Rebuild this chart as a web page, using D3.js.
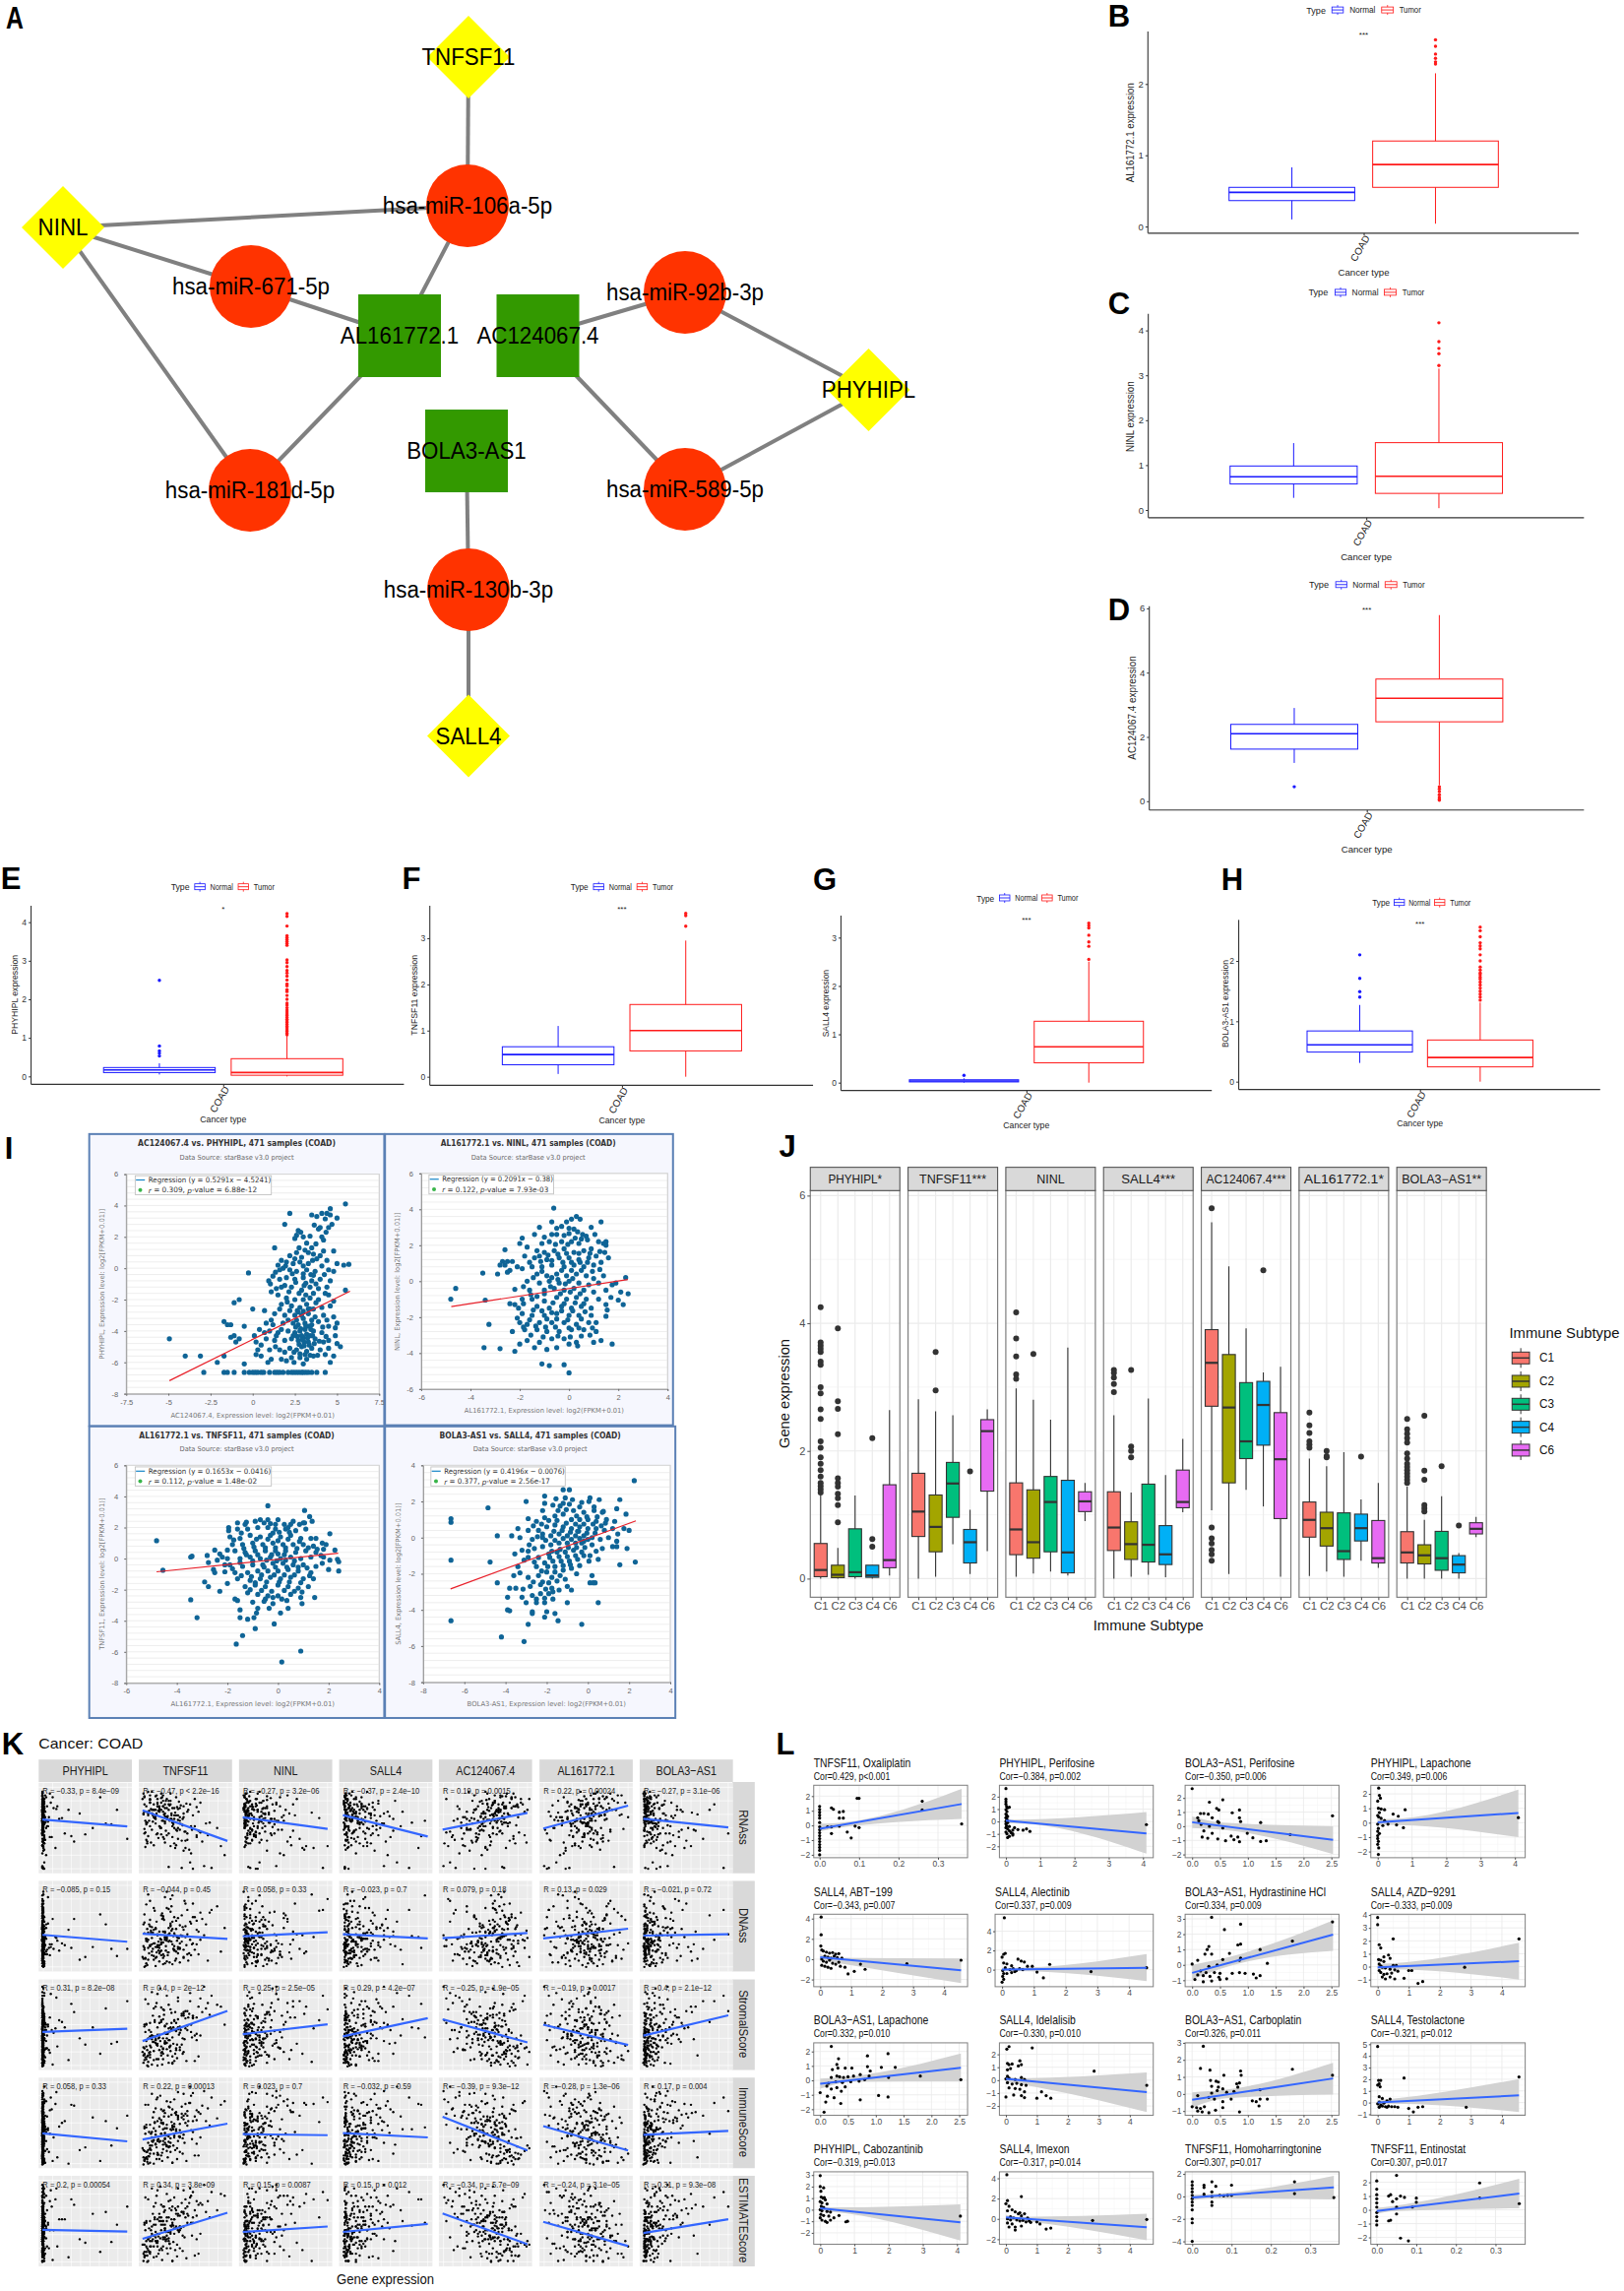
<!DOCTYPE html>
<html><head><meta charset="utf-8">
<script src="https://cdnjs.cloudflare.com/ajax/libs/d3/7.8.5/d3.min.js"></script>
<style>html,body{margin:0;padding:0;background:#fff}svg{display:block;font-family:"Liberation Sans",Arial,sans-serif}</style>
</head><body><script>
/* ---------- panel A ---------- */
const netNodes=[["TNFSF11","d"],["hsa-miR-106a-5p","c"],["NINL","d"],["hsa-miR-671-5p","c"],["hsa-miR-92b-3p","c"],["AL161772.1","s"],["AC124067.4","s"],["PHYHIPL","d"],["BOLA3-AS1","s"],["hsa-miR-181d-5p","c"],["hsa-miR-589-5p","c"],["hsa-miR-130b-3p","c"],["SALL4","d"]];
const netEdges=[[0,1],[1,2],[1,5],[2,3],[3,5],[2,9],[9,5],[6,4],[6,10],[4,7],[10,7],[8,11],[11,12]];
/* ---------- panels B-H ---------- */
const boxGenes=["AL161772.1","NINL","AC124067.4","PHYHIPL","TNFSF11","SALL4","BOLA3-AS1"];
const boxStars=["***","","***","*","***","***","***"];
const boxTicks=[[0,1,2],[0,1,2,3,4],[0,2,4,6],[0,1,2,3,4],[0,1,2,3],[0,1,2,3],[0,1,2]];
const boxNormal=[[.1,.364,.48,.55,.83],[.27,.58,.74,.98,1.49],[1.19,1.62,2.1,2.39,2.9],[.05,.1,.17,.23,.34],[.06,.26,.48,.65,1.1],[0,.015,.035,.06,.09],[.31,.49,.61,.84,1.27]];
const boxTumor=[[.04,.55,.87,1.2,2.15],[.04,.37,.75,1.5,3.15],[.5,2.47,3.2,3.8,5.79],[0,.03,.1,.46,1.06],[0,.56,1,1.565,2.95],[0,.41,.74,1.27,2.5],[0,.245,.4,.69,1.31]];
const outNormal=[[],[],[.45],[.53,.6,.66,.79,2.49],[],[.15],[1.4,1.49,1.71,2.1]];
const outTumor=[[2.62,2.53,2.42,2.36,2.31,2.28],[4.17,3.75,3.6,3.48,3.22],[.45,.38,.3,.2,.12,.06,.03],
[1.08,1.12,1.17,1.21,1.26,1.3,1.35,1.4,1.44,1.48,1.53,1.58,1.62,1.67,1.72,1.78,1.85,1.9,2,2.1,2.2,2.25,2.35,2.4,2.5,2.6,2.68,2.75,2.85,2.95,3.02,3.4,3.45,3.5,3.55,3.6,3.65,3.9,4.15,4.22],
[3.26,3.49,3.54],[2.55,2.82,2.91,3.05,3.2,3.25,3.3],
[1.35,1.4,1.45,1.5,1.55,1.6,1.65,1.7,1.73,1.77,1.8,1.85,1.9,2,2.1,2.2,2.25,2.3,2.4,2.5,2.56]];
/* ---------- panel I ---------- */
const iTitles=["AC124067.4 vs. PHYHIPL, 471 samples (COAD)","AL161772.1 vs. NINL, 471 samples (COAD)","AL161772.1 vs. TNFSF11, 471 samples (COAD)","BOLA3-AS1 vs. SALL4, 471 samples (COAD)"];
const iXLabels=["AC124067.4, Expression level: log2(FPKM+0.01)","AL161772.1, Expression level: log2(FPKM+0.01)","AL161772.1, Expression level: log2(FPKM+0.01)","BOLA3-AS1, Expression level: log2(FPKM+0.01)"];
const iYLabels=["PHYHIPL, Expression level: log2[FPKM+0.01)]","NINL, Expression level: log2[FPKM+0.01)]","TNFSF11, Expression level: log2[FPKM+0.01)]","SALL4, Expression level: log2[FPKM+0.01)]"];
const iEq=["Regression (y = 0.5291x − 4.5241)","Regression (y = 0.2091x − 0.38)","Regression (y = 0.1653x − 0.0416)","Regression (y = 0.4196x − 0.0076)"];
const iR=["0.309","0.122","0.112","0.377"];
const iP=["6.88e-12","7.93e-03","1.48e-02","2.56e-17"];
const iXTicks=[[-7.5,-5,-2.5,0,2.5,5,7.5],[-6,-4,-2,0,2,4],[-6,-4,-2,0,2,4],[-8,-6,-4,-2,0,2,4]];
const iYTicks=[[-8,-6,-4,-2,0,2,4,6],[-6,-4,-2,0,2,4,6],[-8,-6,-4,-2,0,2,4,6],[-8,-6,-4,-2,0,2,4]];
const iRegLines=[[-4.94,-7.17,5.77,-1.46],[-4.78,-1.41,2.39,.09],[-4.8,-.85,2.38,.35],[-6.67,-2.84,2.33,.93]];
const i1Floor=[-2.9,-1.7,-1.5,-1.1,-.5,-.2,0,.15,.3,.5,.65,1,1.3,1.45,1.6,1.8,2.1,2.3,2.45,2.6,2.75,2.9,3,3.15,3.3,3.5,3.8,4.3];
const i1Pts=[-4.94,-4.5,-4,-5.6,-3.1,-5.6,-2.1,-6,-1.7,-5.6,-1.7,-3.4,-1.5,-3.6,-1.3,-3.6,-1.3,-4.4,-1.1,-4.3,-1,-4.7,-1.1,-2.2,-.8,-2,-.5,-3.7,-.8,-4.5,-.25,-.3,0,-2.6,.7,-2.7,.1,-4.3,.2,-4.7,.2,-5.5,.5,-5.6,-.5,-6.1,
5.5,4.1,4.6,3.8,4.6,3.4,5,3.2,4.1,3.5,3.5,3.4,2.2,3.5,1.9,2.8,3.8,3.3,4.4,3.5,4.7,2.8,4.5,2.6,2.7,2.4,2.6,2.1,3.9,2.5,4,2.6,2.5,1.9,3,2,4.2,1.8,4.1,2,3.2,1.6,3.5,1.3,1.3,1.3,4.8,1.1,3.3,1,2.6,1,2.2,.8,2.9,.7,3.6,.9,4,.8,3.8,.6,2,.4,1.7,.5,1.5,.2,2.4,.3,2.8,.4,3.3,.3,4.4,.5,5,.3,5.4,.2,5.7,.25,1.8,0,2.2,-.1,2.6,-.2,3.2,-.1,3.7,-.2,4.5,-.1,4.8,-.2,1.2,-.5,1.6,-.7,2,-.6,2.5,-.7,3,-.6,3.5,-.8,4,-.7,4.6,-.8,1.1,-1.5,1.7,-1.2,2.3,-1.2,2.9,-1.4,3.4,-1.2,3.9,-1.3,4.4,-1.2,5.5,-1.4,1.5,-1.7,2,-1.9,2.5,-2,3,-2,3.4,-1.9,3.9,-2,4.5,-1.7,1.7,-2.3,2.3,-2.4,2.8,-2.5,3.2,-2.3,3.6,-2.6,4.1,-2.5,4.6,-2.4,1.3,-2.9,1.9,-3,2.5,-3,2.9,-3,3.3,-2.9,3.7,-3.1,4.2,-3,4.8,-3.1,.8,-3.5,1.2,-3.6,1.8,-3.5,2.4,-3.5,2.7,-3.6,3.1,-3.5,3.5,-3.6,3.9,-3.4,4.5,-3.7,4.9,-3.8,1,-4,1.5,-4.1,2.1,-4,2.5,-4.1,2.8,-4,3.2,-4.2,3.6,-4,4.1,-4.1,4.9,-4.3,.8,-4.5,1.3,-4.6,1.9,-4.6,2.3,-4.5,2.7,-4.6,3,-4.4,3.3,-4.7,3.7,-4.5,4.5,-4.6,5.2,-5,1,-5.2,1.6,-5.2,2.2,-5.1,2.6,-5.2,2.9,-5,3.2,-5.3,3.5,-5.1,4,-5.2,4.8,-5.6,1.1,-5.8,1.7,-5.8,2.3,-5.7,2.8,-5.7,3.2,-5.8,3.6,-5.6,4.6,-6,.9,-6,2.6,-3.3,2.9,-4.3,3.1,-3.9,3.4,-4.3,2.4,-4.3,3,-3.2,3.3,-3.7,3.05,-4.7,3.4,-2.6,2.7,-2.8,3.5,-3.3,
2.55,-3.75,2.85,-3.85,3.15,-3.7,3.45,-3.9,2.65,-4.35,2.95,-4.55,3.25,-4.45,3.55,-4.3,2.75,-4.85,3.05,-4.95,3.35,-4.9,3.65,-4.8,2.45,-5.35,2.8,-5.45,3.1,-5.5,3.4,-5.55,2.65,-2.7,3,-2.75,3.3,-2.6,3.75,-2.2,3.15,-1.7,2.75,-1.6,3.6,-1.6,2.15,-1.5,1.9,-1.1,2.55,-.9,3.15,-.95,3.75,-1,4.25,-.4,2.35,-.35,3,-.35,3.45,-.4,1.95,.15,2.5,.6,3,.15,3.55,.5,4.1,.15,2.75,1.3,3.1,1.15,3.75,1.55,4.2,1.1,3.4,2.05,2.85,2.3,4.35,2.3,3.65,2.75,4.3,3.15,3.05,-1.1,3.6,-.45,4.3,-1.6,4.8,-2.1,5,-3.5,5,-4.8,4.4,-3.3,4.15,-3.75,4.35,-4.35,4.2,-4.7,3.95,-4.65,4.3,-5.5,4.5,-5.1,3.85,-5.55,1.4,-4.3,1.7,-3.9,1.1,-3.3,2.1,-3.3,2.2,-2.7,1.6,-2.6,2.05,-2.15,1.35,-5,1.9,-5.35,2,-5.9,2.45,-6,3,-6.1,.5,-4.9,.7,-4.1,.4,-3.9,.3,-5.2,1.4,-1.3,1.05,-1,.95,-.8,1.6,-.1,1.35,-.25];
const i2Pts=[-4.8,-1,-4.6,-.4,-3.5,.45,-3.4,-1.05,-3.25,-2.4,-3.45,-3.7,-2.8,-3.75,-2.9,.4,-2.7,1.1,-2.6,1.75,-2.6,.9,-2.5,1.1,-2.4,.6,-2.5,.5,-2.8,.9,-2.2,-3.9,-2,-3.5,-1.9,2.4,-2,2.1,-1.4,2.6,-1.2,3,-1.1,-4.6,-.8,-4.7,-.2,-4.65,0,-5.1,
-.62,4.07,-.1,3.3,.3,3.6,.1,3.45,.45,3.45,1.3,3.3,-.7,3.3,-.3,3.05,0,2.95,.2,2.9,.9,3,-.7,2.6,-.5,2.6,0,2.65,.55,2.6,.7,2.5,.75,2.3,-1.1,2.1,-.8,2.2,-.3,2.2,.1,2.2,.4,2.1,1.2,2.2,1.4,2.1,1.5,2,1.5,2.2,-1.7,1.9,-1.3,1.7,-1,1.6,-.6,1.7,-.2,1.8,.2,1.6,.6,1.7,.9,1.8,-1.8,1.4,-1.4,1.3,-.9,1.2,-.4,1.3,0,1.3,.4,1.2,.8,1.3,1.1,1.4,1.6,1.3,-1.5,.8,-1.1,.8,-.7,.9,-.2,.8,.2,.9,.6,.8,1,.9,-1.9,.7,-1.3,.4,-.9,.3,-.5,.4,-.1,.3,.3,.4,.7,.3,-1.7,0,-1.2,-.1,-.8,0,-.4,-.1,0,0,.4,-.1,.8,-.2,1.2,-.1,1.9,-.1,-2.2,-.45,-1.6,-.5,-1,-.5,-.6,-.4,-.2,-.5,.2,-.4,.6,-.5,1,-.6,1.5,-.5,2.3,.2,2.1,-.6,-2.4,-1.25,-1.9,-1,-1.5,-1,-1,-1.1,-.5,-.9,-.1,-1,.3,-.9,.7,-1,1.2,-1,1.7,-.9,2,-1.05,2.4,-.7,-2.2,-1.3,-1.3,-1.4,-.8,-1.5,-.3,-1.4,.1,-1.5,.5,-1.4,.9,-1.5,1.5,-1.3,2.2,-1.3,-1.9,-1.8,-1.5,-1.9,-1,-1.9,-.5,-1.8,0,-1.9,.4,-1.9,.9,-1.9,1.5,-1.95,-2,-2.3,-1.7,-2.4,-1.2,-2.3,-.7,-2.3,-.2,-2.3,.3,-2.4,.8,-2.3,1.1,-2.3,-2.3,-2.8,-1.8,-2.7,-1.3,-2.7,-.9,-2.8,-.4,-2.8,.1,-2.7,.6,-2.7,1.1,-2.8,-1.7,-3.3,-1.2,-3.4,-.7,-3.2,-.2,-3.2,.3,-3.4,1,-3.4,1.3,-3.3,1.75,-3.5,-1.4,-3.7,-.9,-3.8,-.5,-3.7,0,-3.5,.35,-3.6,
-.45,.1,-.15,-.15,.15,.15,-.75,-.3,-.35,-.7,.05,-.6,.45,-.7,-.65,-1.2,-.2,-1.25,.25,-1.2,.6,-1.25,-1,-.7,-1.3,-.85,-1.1,-1.65,-.7,-1.75,-.3,-1.65,.15,-1.65,.65,-1.7,-1.45,-1.6,-.9,-2.1,-.5,-2.1,-.05,-2.15,.5,-2.1,-1.6,-2.15,-1.35,-2.5,-.95,-2.55,-.55,-2.55,0,-2.6,.4,-2.6,.95,-2.6,-1.85,-2.55,-2.1,-2.05,-1.55,-3,-1.05,-3.1,-.45,-3.05,.05,-3.1,.5,-3.05,.85,-3,-2.05,-1.5,-1.85,-1.25,-1.55,-.75,-1.85,-.3,-1.45,.2,-1.1,.55,-.7,.2,-.3,.6,.1,.6,.5,.6,.95,.55,1.25,.65,1.4,.3,1,.15,.45,1.05,.1,1.05,-.25,1.05,-.7,1.15,-1.15,1.1,-1.6,1.05,-2.1,.8,-2.3,1.1,.75,1.05,1.3,1.05,1.45,1.6,.85,1.55,.4,1.55,-.1,1.55,-.45,1.5,-.85,1.45,-1.2,1.4,-.05,2.05,.25,2.4,-.55,2.05,-.2,2.55,-.5,2.95,.5,2.35,.35,2.75,-1,2.45,1.05,2.6,1.25,1.65,1.55,-1.6,1.75,-.2];
const i3Pts=[-4.8,1.15,-4.55,-.75,-3.45,.1,-3.4,.15,-3.45,-2.65,-3.2,-3.8,-2.9,-1.5,-2.75,-1.8,-2.8,.2,-2.75,-.25,-2.5,.55,-2.55,-.7,-2.5,-.9,-2.3,.3,-2.3,-2.1,-2.1,-.4,-2,-1.6,-1.95,2,-1.95,1.8,-1.7,-2.6,-1.6,-2.7,-1.5,-3.3,-1.5,-3.8,-1.65,-5.5,-1.4,-4.95,-1.2,-3.9,-.95,-3.8,-.9,-4.5,-.85,-3.5,-.15,-4.2,.15,-6.65,.9,-5.95,.9,-2.5,.95,-2.9,1.45,-2.5,.4,-3.2,-.4,3.4,1.05,3.1,1.25,2.7,2.05,1.6,2.25,.55,2.4,-.8,2.35,-.05,1.75,1,1.8,.6,
-1.6,2.3,-1.3,2.2,-.9,2.4,-.7,2.5,-.4,2.5,0,2.5,.6,2.4,1,2.3,-1.6,1.9,-1.2,1.9,-.8,2,-.4,2,-.1,1.9,.3,1.9,.7,1.8,1.1,1.9,-1.9,1.4,-1.5,1.3,-1.1,1.5,-.7,1.4,-.3,1.5,.1,1.4,.5,1.5,.9,1.3,1.3,1.3,-1.8,.9,-1.4,.9,-1,1,-.6,.9,-.2,1,.2,.9,.6,.9,1,.9,1.4,.8,-1.7,.5,-1.3,.4,-.9,.5,-.5,.5,-.1,.5,.3,.5,.7,.4,1.1,.5,1.5,.4,-2,0,-1.5,0,-1.1,.1,-.7,0,-.3,.1,.1,0,.5,.1,.9,0,1.3,.1,1.8,.1,-1.9,-.4,-1.4,-.5,-1,-.4,-.6,-.4,-.2,-.3,.2,-.3,.6,-.4,1,-.4,1.5,-.5,2,-.7,2.4,-.2,-1.7,-.9,-1.2,-.9,-.8,-.8,-.4,-.8,0,-.8,.4,-.7,.8,-.8,1.3,-.9,-1.6,-1.3,-1.1,-1.4,-.7,-1.3,-.3,-1.2,.1,-1.3,.5,-1.2,1,-1.3,1.4,-1.3,-1.3,-1.8,-.9,-1.7,-.5,-1.8,0,-1.7,.4,-1.8,.8,-1.9,1.2,-1.8,-1.2,-2.2,-.8,-2.3,-.4,-2.4,0,-2.4,.5,-2.3,-1,-2.8,-.5,-2.6,-.2,-2.9,.15,-2.6,-.8,-3.2,.1,-3.5,
0,.3,-.25,.25,.25,.25,-.45,-.1,-.05,-.15,.3,-.1,.65,-.15,-.5,.7,-.1,.7,.3,.7,.75,.65,-.55,-.55,-.1,-.55,.35,-.55,.8,-.55,1.15,-.6,-.8,.25,-1,-.15,-1.25,.25,-1.5,-.25,-.85,1.25,-.4,1.25,0,1.15,.4,1.25,.85,1.1,-.95,.75,-1.35,.65,1.2,.7,1.55,.6,1.7,.2,1.75,-.3,2.05,-.1,-.65,-1.05,-.15,-1.05,.25,-1.05,.65,-1.05,-1.05,-1.15,-.9,-1.55,-.45,-1.5,.05,-1.5,.45,-1.5,.9,-1.55,1.25,-1.1,-1.45,-1.1,-1.8,-.65,-2.1,-.85,-2.2,.1,-2.4,-.1,-1.1,-2,-.65,-2.05,-.25,-2.1,.25,-2.05,.65,-2.1,.95,-2.15,-.55,-2.75,-.2,-2.5,.35,-2.7,-.35,-3.2,1.05,2.3,1.35,2.4,1.5,1.3,1.9,.9,-.3,2.25,.25,2.2,.5,2.2,.85,2.2,-1.25,2.35,-1.45,1.65,-1.75,1.2,-2,.55,-.55,2.3,-.1,2.2,.4,2,-.2,1.65,.05,1.7,.45,1.7];
const i4Pts=[-6.65,1.05,-6.65,.85,-6.65,-1.25,-6.65,-4.6,-4.85,1.65,-4.4,.1,-4.75,-1.35,-4.4,-2.5,-4.2,-5.5,-3.9,-4,-3.8,-4.05,-3.1,-5.75,-3,2,-2.9,1.05,-2.9,-4.8,-3.9,-3.3,-3.8,-2.8,-3.4,.5,-3.7,.1,-.3,-4.8,.5,-3.6,-1.45,-4.6,-1.6,-4.2,-2.1,-4.4,-2.7,-4.2,-1,-3.6,-.8,-2.9,-1,-2.7,.1,-2.5,.35,-2.5,2.25,3.15,2.3,-1.35,1.55,-1.5,1.9,-.6,2,.4,1.85,1.3,1.55,2.1,1.4,1.6,.55,2.1,.1,2.2,-.4,1.7,-.9,2.65,-1.2,2.65,-1.9,3,-1.5,3.2,-2.1,2.3,
-2.2,1.5,-1.7,1.8,-1.2,1.9,-.7,1.5,-.2,1.4,.3,1.5,.7,1.4,-2.5,.9,-2.1,1.1,-1.6,1.2,-1.2,1.3,-.8,1,-.4,1,0,1,.4,.9,.9,1,1.3,.9,-2.9,.4,-2.4,.4,-2,.6,-1.6,.7,-1.2,.6,-.8,.5,-.4,.6,0,.5,.4,.5,.8,.4,1.2,.5,-3.3,0,-2.7,-.1,-2.2,0,-1.8,.1,-1.4,.2,-1,.1,-.6,.1,-.2,.1,.2,0,.6,-.1,1,0,1.4,-.2,-3.2,-.7,-2.6,-.6,-2.2,-.5,-1.8,-.4,-1.4,-.3,-1,-.3,-.6,-.3,-.2,-.2,.2,-.4,.7,-.6,1.2,-.5,-2.9,-1.1,-2.4,-1.1,-1.9,-.9,-1.5,-.8,-1.1,-.8,-.7,-.7,-.3,-.8,.1,-1,.5,-1.2,-3.4,-1.6,-2.5,-1.6,-2.1,-1.4,-1.7,-1.3,-1.3,-1.3,-.9,-1.3,-.5,-1.2,-3.6,-2.1,-2.9,-2.2,-2.4,-2.1,-2,-1.9,-1.6,-1.9,-1.2,-1.8,-.8,-1.7,.2,-2.1,.25,-2.5,-3.5,-2.8,-2.8,-2.7,-2.3,-2.6,-1.9,-2.5,-1.5,-2.4,-1.1,-2.3,-3.2,-3.3,-2.7,-3.2,-2.3,-3.1,-1.9,-3.1,-1.4,-2.9,-3,-3.6,-2.5,-3.6,-2.1,-3.6,-1.7,-3.4,-2.7,-4.1,-2,-4.1,
-1.6,-.15,-1.2,-.05,-.8,-.1,-.4,-.05,0,-.1,-1.75,-.75,-1.35,-.65,-.95,-.55,-.55,-.55,-.15,-.55,-1.65,.35,-1.25,.4,-.85,.3,-.45,.35,-.05,.25,.35,.25,-1.5,.95,-1.05,.8,-.6,.75,-.2,.75,.25,.75,.65,.65,-1.85,-1.1,-1.4,-1.05,-1,-1.05,-.6,-1,-.2,-1,-2.05,-.15,-2.45,.05,-2.85,-.4,-2.65,.65,-2.25,.75,-1.9,.95,-1.45,1.5,-1.05,1.55,-.55,1.2,-.05,1.15,.45,1.15,.85,.8,1.45,.2,1.4,-.5,1.75,.5,-1.6,-1.6,-1.2,-1.55,-.85,-1.5,-.4,-1.55,-1.95,-1.6,-2.25,-1.85,-1.75,-2.2,-1.35,-2.1,-2.2,-2.45,-1.75,-2.8,-2.65,-2.45,-3.15,-2.85,-2.05,-2.85,-2.5,-3.4,-2.1,-3.35,-1.7,-3,-3.3,-1.95,-3.1,-1.25,-3.55,-.9,-2.9,-.75,-2.6,-1.35,-.3,-.3,.4,-.75,.05,-1.3,-.55,-2,.05,2,-.3,1.95,-.75,2.1,-1.1,2.2,-1.55,2.15,-2.1,1.9,-.9,1.85,.3,1.7,.75,1.45,-1.35,1.75,-.5,.35,-2.2,.2];
/* ---------- panel J ---------- */
const jGenes=["PHYHIPL*","TNFSF11***","NINL","SALL4***","AC124067.4***","AL161772.1*","BOLA3−AS1**"];
const jCats=["C1","C2","C3","C4","C6"];
const jColors=["#F8766D","#A3A500","#00BF7D","#00B0F6","#E76BF3"];
const jTicks=[0,2,4,6];
const jStats=[
[[0,.03,.135,.55,1.31],[0,.015,.06,.21,.48],[0,.03,.1,.78,1.3],[0,.02,.05,.21,.21],[.05,.17,.29,1.47,2.64]],
[[0,.66,1.05,1.65,2.81],[.03,.42,.81,1.31,2.62],[.54,.96,1.49,1.82,2.56],[.07,.245,.57,.77,1.08],[.43,1.37,2.31,2.49,2.65]],
[[.03,.375,.77,1.5,2.98],[.08,.32,.57,1.39,2.8],[.11,.42,1.2,1.6,2.49],[.05,.09,.41,1.54,3.62],[.9,1.05,1.21,1.36,1.5]],
[[0,.44,.8,1.36,2.56],[.03,.3,.54,.89,1.35],[.06,.26,.53,1.48,2.82],[.02,.22,.38,.83,1.62],[1.04,1.11,1.2,1.7,2.19]],
[[1.07,2.7,3.38,3.9,5.58],[.07,1.5,2.68,3.51,4.89],[1.39,1.88,2.15,3.07,3.92],[1.13,2.09,2.72,3.09,3.23],[.03,.94,1.87,2.6,3.32]],
[[.04,.65,.92,1.2,1.88],[.11,.51,.79,1.04,1.76],[.03,.3,.43,1.03,1.98],[.28,.59,.79,1.01,1.24],[.17,.245,.32,.91,1.5]],
[[0,.245,.41,.735,1.44],[0,.23,.365,.53,.92],[0,.13,.32,.74,1.29],[0,.09,.22,.36,.4],[.65,.7,.78,.875,.965]]];
const jOut=[
[[4.25,3.7,3.65,3.6,3.55,3.4,3.35,3,2.9,2.65,2.5,2.15,2.05,1.9,1.8,1.7,1.6,1.5,1.45,1.4,1.35],[3.92,2.78,2.66,2.26,1.57,1.5,1.44,1.33,1.26,1.15,.88],[],[2.2,.62,.5],[]],
[[],[3.55,2.95],[],[1.68],[]],
[[4.17,3.76,3.48,3.2,3.13],[3.52],[],[],[]],
[[3.27,3.22,3.15,3.05,2.92],[3.27,2.07,2,1.9],[],[],[]],
[[5.8,.8,.63,.55,.45,.38,.28],[],[],[4.83],[]],
[[2.6,2.4,2.28,2.15,2.1,2.05],[2,1.92,1.9],[],[1.91],[]],
[[2.5,2.34,2.27,2.2,2.13,1.96,1.88,1.8,1.75,1.7,1.65,1.6,1.55,1.5],[2.55,1.69,1.55,1.15,1.1,1.05],[1.76],[.83],[]]];
/* ---------- panel K ---------- */
const kGenes=["PHYHIPL","TNFSF11","NINL","SALL4","AC124067.4","AL161772.1","BOLA3−AS1"];
const kScores=["RNAss","DNAss","StromalScore","ImmuneScore","ESTIMATEScore"];
const kLabels=[
["R = −0.33, p = 8.4e−09","R = −0.47, p < 2.2e−16","R = −0.27, p = 3.2e−06","R = −0.37, p = 2.4e−10","R = 0.19, p = 0.0015","R = 0.22, p = 0.00024","R = −0.27, p = 3.1e−06"],
["R = −0.085, p = 0.15","R = −0.044, p = 0.45","R = 0.058, p = 0.33","R = −0.023, p = 0.7","R = 0.079, p = 0.18","R = 0.13, p = 0.029","R = −0.021, p = 0.72"],
["R = 0.31, p = 8.2e−08","R = 0.4, p = 2e−12","R = 0.25, p = 2.5e−05","R = 0.29, p = 4.2e−07","R = −0.25, p = 1.9e−05","R = −0.19, p = 0.0017","R = 0.4, p = 2.1e−12"],
["R = 0.058, p = 0.33","R = 0.22, p = 0.00013","R = 0.023, p = 0.7","R = −0.032, p = 0.59","R = −0.39, p = 9.3e−12","R = −0.28, p = 1.3e−06","R = 0.17, p = 0.004"],
["R = 0.2, p = 0.00054","R = 0.34, p = 3.8e−09","R = 0.15, p = 0.0087","R = 0.15, p = 0.012","R = −0.34, p = 5.7e−09","R = −0.24, p = 3.1e−05","R = 0.31, p = 9.3e−08"]];
const kFits=[
[[59.4,51.8],[69.5,35.7],[61.8,49],[64.3,40.6],[48.2,66.7],[49.4,74.7],[60.2,50.6]],
[[40.4,32.8],[41.6,36],[38.8,43.2],[41.2,36.4],[36.8,42.4],[36.4,47.2],[39.6,41.2]],
[[42,45.6],[32,65.2],[39.6,50.4],[37.2,57.2],[56,30.4],[50,27.6],[38,60.4]],
[[38.4,29.6],[31.6,49.2],[37.6,36.4],[38.8,34],[56.8,19.6],[46.4,19.6],[36.8,41.2]],
[[40.4,38.4],[30.4,59.2],[38,44],[38,46.8],[58.4,24.4],[49.2,22.4],[36.8,52]]];
const kX1=[
[4,5,6,12,4,5,4,8,95,5,4,18,4,6,5,4,72,5,4,9,4,5,38,4,6,4,5,14,4,5,4,58,6,4,5,4,22,5,4,7,4,5,4,6,10,4,5,4,28,5,4,6,4,5,4,84,5,4,16,4,5,6,4,5,4,8,5,4,44,4,6,5,4,12,5,4,4,6,5,4,20,4,5,4,6,4,5,4,66,5,4,4,7,5,4,5,32,4,5,4],
[70,88,55,62,78,48,66,92,42,58,74,50,84,38,64,56,72,46,34,60,52,44,68,30,54,40,76,36,48,28,58,42,50,33,26,62,38,46,24,52,35,44,30,22,56,40,28,36,20,48,32,18,42,26,38,16,34,24,44,14,30,36,20,28,12,40,22,32,10,26,18,34,8,24,30,14,20,38,12,26,8,18,6,32,22,10,16,28,6,14,24,5,12,20,8,4,16,10,6,5],
[40,72,22,55,90,30,12,48,65,18,35,80,25,10,58,44,15,30,95,20,38,8,52,26,70,14,33,7,46,22,60,12,28,40,9,18,35,6,50,24,13,42,8,30,16,56,10,22,34,7,14,26,48,9,20,6,38,12,28,8,18,32,6,24,10,44,7,16,28,6,12,36,8,20,5,14,62,9,24,6,18,30,7,12,5,22,10,40,6,16,8,26,5,14,7,19,5,11,6,8],
[48,30,62,20,75,38,15,52,28,10,42,85,22,34,58,18,46,8,26,66,36,12,50,24,7,40,20,55,16,30,9,44,26,14,68,34,11,22,38,7,48,18,28,6,36,13,24,92,8,32,16,20,6,42,10,26,14,7,30,18,9,22,6,54,12,24,8,16,34,6,20,10,28,7,14,5,18,38,8,12,24,6,15,5,10,30,7,19,6,13,5,22,8,11,5,16,6,9,5,7],
[5,28,12,40,18,33,8,46,25,38,15,50,30,6,44,22,55,35,10,48,27,60,40,20,52,32,62,14,45,36,58,24,65,42,30,54,48,68,38,17,60,34,50,72,44,26,64,56,40,70,52,36,75,46,58,66,30,62,78,48,54,72,42,68,60,82,50,64,74,38,58,84,66,52,70,46,88,62,76,56,80,68,92,60,72,50,85,64,78,95,58,74,66,82,70,97,62,76,68,80],
[5,35,18,48,10,28,40,22,55,8,32,44,15,38,60,26,50,12,42,34,58,20,46,30,65,6,52,36,24,62,44,16,54,40,28,68,48,34,72,11,56,42,30,60,50,38,75,25,52,64,44,33,70,46,56,82,40,62,54,35,78,48,66,58,30,72,52,42,64,88,56,46,70,60,38,76,50,66,92,54,44,68,58,80,48,62,95,52,72,42,64,56,84,60,46,70,54,66,50,58],
[30,55,14,42,90,22,10,35,68,18,8,48,25,12,60,28,16,7,38,20,95,13,33,9,24,45,11,19,6,30,15,52,8,22,12,36,6,18,75,10,26,14,7,40,16,5,21,9,32,12,6,17,28,8,14,44,6,20,10,25,5,13,7,34,11,18,6,9,15,5,22,8,12,6,16,58,5,10,19,7,13,5,9,27,6,11,5,15,8,5,10,6,20,7,5,12,6,8,5,4]];
const kX2=[
[4,5,4,6,4,5,7,4,5,4,6,4,5,4,11,4,6,5,4,4,5,8,4,5,4,6,5,4,4,15,5,4,6,4,5,4,7,5,4,4,25,4,5,6,4,5,4,4,9,5,4,6,4,5,4,50,4,5,4,6,4,7,5,4,4,5,13,4,6,4,5,4,4,6,5,4,35,4,5,4,8,4,5,6,4,4,19,5,4,6,4,5,78,4,5,4,6,4,5,10],
[35,12,48,26,7,60,22,41,16,31,9,53,28,19,44,6,36,24,66,14,39,11,29,50,21,8,33,18,57,25,42,13,30,5,46,20,37,10,27,62,17,34,23,43,7,52,15,32,26,40,9,22,47,12,35,19,55,28,6,38,16,30,24,44,11,49,20,33,8,41,27,14,36,58,18,25,10,45,31,6,23,39,13,51,17,29,42,9,34,21,64,15,37,26,7,47,12,32,19,28],
[10,28,6,18,42,8,24,14,6,34,12,20,7,52,16,9,30,6,22,11,68,8,26,14,38,7,19,10,46,6,16,25,9,32,12,6,21,78,8,15,28,7,36,11,18,6,24,10,44,14,7,20,9,30,6,16,58,8,12,26,7,22,34,6,10,18,40,8,14,7,28,12,6,20,9,48,16,7,24,11,6,32,8,18,86,10,14,6,26,9,20,7,38,12,6,16,8,22,54,10],
[14,6,26,9,40,7,18,11,32,6,22,8,48,13,7,28,10,6,36,16,9,20,60,7,12,26,6,44,10,18,7,30,8,14,6,24,78,9,16,6,34,11,7,22,8,52,13,6,28,10,18,7,40,9,14,6,24,8,32,11,6,20,7,46,12,16,6,26,9,36,7,14,10,6,22,8,88,12,18,6,30,7,10,42,8,16,6,24,9,13,7,34,6,20,10,58,7,14,8,28],
[62,44,70,55,33,78,48,66,58,38,82,52,74,60,28,68,56,42,88,50,72,63,36,76,54,46,84,59,30,66,52,40,92,57,70,47,24,64,80,53,35,73,58,44,86,61,49,68,20,75,56,39,83,51,65,43,90,60,34,71,55,26,78,47,62,12,69,54,41,85,58,32,74,50,66,16,80,57,45,72,63,37,94,52,68,48,22,76,60,42,64,55,30,82,50,70,8,58,46,67],
[52,38,66,46,24,58,72,42,50,30,62,78,36,55,18,48,68,40,84,53,28,60,44,74,34,50,14,64,56,26,70,42,48,88,32,58,52,20,66,38,46,76,54,30,62,10,44,80,50,36,68,56,24,42,72,48,34,60,90,40,54,22,64,46,30,76,52,16,58,38,70,44,50,28,82,56,36,62,12,48,66,42,26,74,54,34,60,46,20,68,40,86,52,32,56,44,64,8,50,38],
[8,20,6,14,30,7,12,5,26,10,6,40,9,16,5,22,7,12,34,6,18,5,9,50,14,6,24,8,5,12,28,7,16,62,6,10,20,5,13,8,36,6,17,5,11,46,7,22,5,9,15,6,30,8,5,12,80,6,19,7,25,5,10,14,6,42,8,5,18,7,12,5,33,9,6,15,5,24,7,11,5,56,8,16,6,5,21,10,5,13,7,38,6,9,5,17,5,28,6,12]];
const kY1=[
[8,30,12,40,6,25,45,20,38,5,42,28,50,33,47,22,55,36,30,52,44,58,35,60,26,48,56,40,62,34,64,50,46,58,68,42,60,54,70,37,66,48,62,74,52,31,72,58,44,66,76,55,64,80,50,70,60,43,72,66,82,56,74,63,78,84,52,70,66,86,60,76,68,88,72,48,82,64,78,58,74,85,68,80,72,90,62,76,84,70,78,66,86,74,56,82,70,64,76,88],
[40,22,55,30,68,15,35,48,25,60,12,38,72,28,44,18,52,33,80,24,41,10,58,36,20,47,65,30,16,43,75,27,50,34,8,56,23,39,62,19,45,31,70,26,53,14,37,84,29,46,21,6,59,32,42,17,66,35,25,49,11,55,28,38,78,22,44,33,13,61,27,51,36,18,88,30,41,24,57,15,34,47,26,69,20,43,31,9,63,37,23,52,29,40,74,16,46,35,5,28],
[92,70,85,58,82,64,79,50,76,60,74,46,72,55,70,42,68,62,67,38,65,48,64,35,62,52,61,44,60,30,58,47,57,33,56,40,55,28,53,44,52,25,51,39,50,22,49,36,47,20,46,34,45,18,44,31,43,26,41,38,40,15,39,29,37,24,36,42,35,12,33,27,32,19,30,34,29,10,27,23,26,37,24,8,22,16,21,30,18,6,16,25,14,5,12,20,11,4,17,8],
[85,70,90,64,78,82,60,74,58,83,66,71,55,76,62,80,52,68,73,57,63,49,69,44,72,59,47,65,54,61,40,56,50,67,43,53,46,60,38,58,51,35,48,55,42,62,33,45,52,37,57,41,30,49,36,44,28,53,34,40,25,47,31,39,22,43,29,35,20,50,27,33,18,38,24,30,15,34,21,26,12,37,19,23,10,28,16,32,8,25,14,20,6,17,11,22,5,13,9,4],
[90,80,86,72,82,84,70,78,66,82,72,74,62,76,68,78,60,70,73,62,66,56,68,54,70,62,54,66,58,62,48,58,54,64,50,56,52,60,46,58,52,44,50,54,48,58,42,48,52,44,54,46,40,50,42,46,38,50,40,44,34,46,36,42,32,44,36,38,30,46,32,36,28,40,30,34,26,36,28,30,22,38,24,28,18,30,22,32,16,28,20,24,14,22,16,24,10,18,12,6]];
const kY2=[
[64,52,74,40,58,82,68,47,76,60,33,70,55,86,62,44,72,50,78,66,28,58,80,36,69,54,75,63,48,84,59,71,42,65,6,77,56,67,38,73,61,88,51,79,45,68,57,7,74,64,35,70,53,81,60,43,76,66,49,72,31,62,83,55,69,46,78,59,37,73,65,90,52,5,70,58,41,75,63,85,50,67,34,77,61,47,71,56,80,39,68,64,54,74,29,60,82,44,66,57],
[33,50,24,44,15,60,29,38,70,21,47,12,35,55,26,42,8,32,65,18,40,52,28,75,23,36,10,48,30,58,20,43,34,14,62,27,39,85,17,46,31,53,22,37,6,68,25,41,19,56,33,11,49,28,72,16,35,44,24,60,13,38,30,51,20,78,27,42,9,34,57,22,47,31,15,64,26,40,18,54,36,12,45,29,67,23,37,7,50,33,19,43,25,59,14,39,28,48,21,82],
[45,20,62,35,78,10,52,28,68,40,15,58,32,74,22,48,8,55,38,86,18,44,30,65,12,50,25,70,36,6,56,42,82,16,60,27,47,9,66,33,53,21,90,39,14,49,31,72,24,43,5,59,35,17,63,28,76,41,11,54,37,23,69,46,19,34,84,26,51,13,61,38,7,57,30,20,73,44,16,50,32,64,25,10,55,40,80,22,47,35,15,60,29,67,42,18,52,33,12,48],
[42,25,58,30,70,14,46,22,62,36,10,52,28,76,18,44,6,50,34,82,20,40,26,60,15,48,24,66,32,8,54,38,74,12,56,30,43,5,64,27,50,18,80,35,11,47,29,68,21,41,7,55,33,16,59,23,72,37,9,49,31,19,65,42,13,28,78,24,45,10,57,34,6,52,26,17,70,39,12,46,30,61,20,8,51,36,84,18,43,32,14,56,25,63,38,16,48,29,10,44],
[44,22,60,32,76,12,50,24,66,38,12,56,30,78,20,46,6,54,36,86,18,42,28,64,14,50,25,70,34,7,56,40,80,14,60,28,45,6,66,30,52,20,88,38,12,48,30,72,22,42,5,58,34,16,62,26,76,40,10,52,34,20,68,44,16,32,84,25,48,11,60,36,6,54,28,18,74,42,14,48,31,64,22,9,54,38,86,20,45,33,14,58,27,66,40,17,50,31,11,46]];
/* ---------- panel L ---------- */
const lTitles=["TNFSF11, Oxaliplatin","PHYHIPL, Perifosine","BOLA3−AS1, Perifosine","PHYHIPL, Lapachone","SALL4, ABT−199","SALL4, Alectinib","BOLA3−AS1, Hydrastinine HCl","SALL4, AZD−9291","BOLA3−AS1, Lapachone","SALL4, Idelalisib","BOLA3−AS1, Carboplatin","SALL4, Testolactone","PHYHIPL, Cabozantinib","SALL4, Imexon","TNFSF11, Homoharringtonine","TNFSF11, Entinostat"];
const lSubs=["Cor=0.429, p<0.001","Cor=−0.384, p=0.002","Cor=−0.350, p=0.006","Cor=0.349, p=0.006","Cor=−0.343, p=0.007","Cor=0.337, p=0.009","Cor=0.334, p=0.009","Cor=−0.333, p=0.009","Cor=0.332, p=0.010","Cor=−0.330, p=0.010","Cor=0.326, p=0.011","Cor=−0.321, p=0.012","Cor=−0.319, p=0.013","Cor=−0.317, p=0.014","Cor=0.307, p=0.017","Cor=0.307, p=0.017"];
const xT1=[0,.1,.2,.3],xT4=[0,1,2,3,4],xT25=[0,.5,1,1.5,2,2.5];
const lXTicks=[xT1,xT4,xT25,xT4,xT4,xT4,xT25,xT4,xT25,xT4,xT25,xT4,xT4,xT4,xT1,xT1];
const lYTicks=[[-2,-1,0,1,2],[-2,-1,0,1,2],[-2,-1,0,1,2],[-2,-1,0,1,2],[-2,0,2,4],[0,2,4],[-1,0,1,2,3],[-1,0,1,2,3,4],[-2,-1,0,1,2],[-2,-1,0,1,2],[-1,0,1,2,3],[-1,0,1,2,3,4,5],[-2,-1,0,1,2,3],[-2,0,2,4],[-4,-2,0,2],[-2,-1,0,1,2]];
const lXDom=[[-.015,.375],[-.19,4.3],[-.126,2.636],[-.2,4.3],[-.21,4.76],[-.22,4.76],[-.126,2.636],[-.22,4.75],[-.116,2.65],[-.21,4.76],[-.126,2.636],[-.22,4.75],[-.19,4.31],[-.21,4.76],[-.018,.373],[-.015,.375]];
const lYDom=[[-2.2,2.74],[-2.92,2.92],[-2.23,2.9],[-2.43,2.6],[-2.71,4.43],[-1.77,5.77],[-1.42,3.3],[-1.55,4.06],[-2.42,2.6],[-2.72,2.89],[-1.25,3],[-1.09,5.12],[-2.99,3.28],[-2.5,4.64],[-4.26,2.19],[-2.5,2.76]];
const lFit=[[0,-.22,.36,1.46],[0,.06,4.1,-.96],[0,.28,2.53,-.97],[0,.03,4.1,.68],[0,.2,4.55,-1.1],[0,0,4.55,.19],[0,-.52,2.53,1.97],[0,-.06,4.55,.42],[0,-.23,2.53,.88],[0,.1,4.55,-.93],[0,-.34,2.53,.91],[0,0,4.55,.62],[0,.13,4.1,-1.1],[0,.14,4.55,-.82],[0,-.1,.36,.81],[0,-.08,.36,1.18]];
/* confidence band: x, low, high at left edge, near the data centre, and at the right edge */
const lBand=[
[[0,-.42,.12],[.03,-.24,.14],[.36,.44,2.49]],[[0,-.15,.27],[.2,-.15,.15],[4.1,-2.6,.76]],[[0,-.13,.69],[.55,-.25,.25],[2.53,-1.97,0]],[[0,-.2,.26],[.2,-.15,.25],[4.1,-1,2.3]],
[[0,-.1,.5],[.4,-.3,.15],[4.55,-2.36,.07]],[[0,-.2,.2],[.4,-.15,.2],[4.55,-1.2,1.62]],[[0,-.95,0],[.7,-.05,.55],[2.53,.92,2.9]],[[0,-.3,.2],[.4,-.2,.25],[4.55,-1,1.85]],
[[0,-.58,.13],[.6,-.1,.3],[2.53,-.08,1.86]],[[0,-.15,.35],[.4,-.3,.15],[4.55,-2.47,.59]],[[0,-.8,.1],[.6,-.25,.25],[2.53,-.04,1.83]],[[0,-.2,.2],[.4,-.1,.3],[4.55,-.81,2.02]],
[[0,-.1,.35],[.25,-.15,.2],[4.1,-2.67,.47]],[[0,-.1,.38],[.4,-.2,.2],[4.55,-2.1,.5]],[[0,-.35,.15],[.04,-.2,.2],[.36,-.26,1.84]],[[0,-.3,.14],[.04,-.1,.28],[.36,.11,2.26]]];
const lPts=[
[0,1.3,0,1.1,0,.9,0,.7,0,.5,0,.2,0,-.1,0,-.3,0,-.5,0,-.7,0,-.9,0,-1.1,0,-1.3,0,-1.5,0,-1.7,0,-2,.03,1.2,.035,1.1,.05,.9,.06,.95,.05,.5,.06,.5,.02,-.1,.03,-.1,.05,-.05,.03,-.55,.07,-.45,.08,-.85,.09,-.05,.1,-.15,.095,1.85,.1,1.85,.26,1.65,.26,1.05,.36,.1],
[0,2.65,0,1.8,0,1.6,0,1.4,.02,1.2,.05,1.1,0,.95,.03,.8,.1,1.15,0,.6,.02,.5,.05,.4,0,.3,.03,.15,0,0,.05,-.1,0,-.2,.02,-.35,.1,-.4,0,-.5,.05,-.6,.1,-.75,0,-.85,.03,-1,.1,-1.2,.2,-1,.15,-.9,.2,-1.1,.05,-1.3,.2,-.7,.35,-.65,.5,-.7,.6,-.6,.7,-.8,.25,-.5,4.1,-.25],
[0,2.66,.31,1.7,.55,1.87,.44,1.26,.48,1.15,.85,1.15,.72,.95,.85,.6,.87,.33,1.23,.26,2.52,.74,.15,.9,.21,.9,.29,.85,.1,.6,.12,.38,.36,.6,.46,.33,.48,.26,.16,.13,.31,0,.55,-.13,.21,-.33,.36,-.5,.18,-.77,.28,-.85,.46,-.9,.6,-1.03,.75,-.95,.85,-1.1,1.09,-.82,1.23,-1.08,1.33,-1.03,1.76,-.59,.99,-.5,.7,-.7,.82,-.77],
[.03,2.4,.05,1.9,.08,1.7,0,1.5,.02,1,.1,.95,.2,.9,.8,.9,.45,.6,.6,.45,.05,.7,0,.5,.03,.4,.1,.3,.2,.15,.3,-.1,.55,-.15,.75,-.35,0,-.1,.02,-.4,0,-.6,.05,-.75,0,-.9,0,-1.1,.02,-1.3,0,-1.5,.03,-1.75,.02,-2.2,4.1,.35,.15,-.2],
[.03,4.15,.03,2.4,.02,1.3,.05,.9,.1,.8,.2,.7,.3,.6,.4,.65,.5,.5,.6,.55,.15,.3,.25,.2,.35,.1,.45,.3,.55,.15,.7,.1,.05,0,.1,-.2,.2,-.3,.3,-.1,.4,-.4,.5,-.5,.6,-.3,.05,-.6,.15,-.7,.25,-.8,.35,-.9,.65,-.7,.8,-.8,.9,-1.45,1.1,-1.2,1.3,-.5,1.45,-1,2.8,-.45,4.55,-.1],
[.07,5.4,.05,1.6,.1,1.7,0,1.3,.05,.7,.15,.6,.5,1.1,.6,.9,.7,.8,.3,.4,.8,.35,.95,.35,1.5,.55,.1,.2,.25,0,.35,.1,.45,-.1,.55,.1,.65,0,.02,-.1,.05,-.4,.02,-.7,.05,-1,0,-1.3,.15,-.4,.3,-.3,.4,-.2,1.1,-.25,1.3,-.85,2.8,-.2,4.55,.2],
[.35,3.1,.87,2.65,.58,2.3,2.52,2.8,1.8,1.55,.3,1.2,.27,1,.23,.7,.35,.7,.67,.75,.82,1.3,.87,1.35,1.22,1,.87,.45,.85,.3,.1,.3,0,.05,.55,.35,.45,0,1.35,.1,.3,-.1,.15,-.4,.25,-.5,.4,-.5,.5,-.55,.1,-.65,.2,-.7,.32,-.75,.48,-.8,.72,-.55,.85,-.5,.95,-.55,1.1,-.6,1.22,-.7,1.15,-.85,.05,-.95,.2,-1.1,.35,-1.05,.5,-.95,.62,-.9],
[0,3.8,0,3.25,.5,2.15,.05,1.7,.1,1.45,.35,.9,.2,.75,.4,.65,.03,.55,.1,.5,.2,.4,.05,.2,.5,.1,.6,.1,.1,.05,.15,-.05,.25,-.1,.4,-.2,.55,-.25,.65,-.35,.05,-.3,.1,-.45,.2,-.6,.3,-.55,.45,-.5,.15,-.8,.25,-.95,.4,-.8,.55,-.95,.85,-.9,1,-.3,1.1,-.3,1.3,-1.3,1.45,-1.15,2.8,-.05,4.55,2.15],
[.2,2.35,.33,1.5,.85,1.7,1.22,1.85,1.35,.9,1.1,.9,.3,1.1,.32,.85,.22,.75,.45,.85,.57,.85,.85,.95,.9,.65,.2,.2,.3,.3,.35,.25,.42,.2,.5,.25,.6,.3,.72,.4,.88,.3,1.23,.2,1.8,.3,2.53,.05,.15,-.2,.28,-.1,.4,-.15,.55,-.1,.7,-.05,.8,.05,0,-.85,.12,-.4,.2,-.6,.3,-.5,.38,-.75,.45,-.45,.13,-1.1,.25,-1.2,.37,-1.6,.1,-1.5,.07,-2.2,.72,-1.35,1.05,-1.05,1.22,-1.15],
[.03,2.4,.1,2.6,.85,2.5,2.85,.7,.05,1.3,.1,1.2,.2,1.25,.4,1.1,.5,1.2,.45,1.5,.05,.8,.15,.9,.05,.3,0,.1,.1,.15,.3,.05,.5,.2,.6,.05,.05,-.2,.2,-.3,.35,-.25,.5,-.35,.65,-.4,.1,-.6,.3,-.65,.45,-.7,.6,-.9,0,-1.3,.25,-1.15,.5,-1.2,.6,-1.35,1,-1.4,1.15,-.9,1.3,-1.2,1.45,-1.4,4.55,-.4],
[.2,2.8,.15,1.5,.32,1.4,.57,1.1,.87,1.35,.88,1.1,.85,.65,.8,.6,1.8,1.45,2.52,1.1,.33,.8,.43,.75,.47,.7,.35,.45,.47,.4,.55,.3,.82,.4,.35,.05,.45,.2,.62,.1,.75,.15,1.22,.25,.1,-.1,.3,-.2,.4,-.3,.55,-.45,.7,-.3,1.08,-.4,1.15,-.45,1.22,-.3,1.35,-.3,1.2,-.7,0,-.75,.08,-.8,.15,-.85,.22,-.75,.1,-1,.18,-1.05,.3,-1.1,.42,-.95,.55,-.8,.85,-1.05],
[0,4.8,.85,2.1,4.55,2.2,.03,1.9,.1,1.9,.05,1.6,0,1.5,.08,1.35,.05,.5,.15,.35,.3,.15,.4,.3,.05,.05,.2,-.05,.1,-.2,.15,-.3,.25,-.35,.35,-.3,.45,-.35,.55,-.35,.65,-.4,.05,-.4,.3,-.4,1,-.5,1.15,-.8,1.3,-.4,1.45,-.35,2.85,-.4,0,-.1,.05,-.35],
[0,2.95,0,2,.1,1.9,.02,1.6,.03,1.1,.08,1,.12,1.05,0,.7,.05,.6,.15,.85,.2,.5,.03,.3,.1,.2,0,0,.05,-.1,.2,-.15,.3,-.2,.02,-.4,.1,-.5,.25,-.55,.4,-.7,.55,-.5,0,-.7,.05,-.9,.15,-1,.2,-1.1,.3,-.9,.75,-1.05,.8,-1,4.1,-.55],
[.03,4.35,.5,2.2,.05,1.8,0,1.5,.1,1.25,.2,.9,.05,.8,.3,.7,.4,.5,.45,.6,.6,.5,.15,.2,.25,.1,.5,.3,.7,.1,.05,0,.15,-.1,.35,-.1,.45,-.2,.55,-.15,.65,-.3,.75,-.2,.05,-.4,.2,-.5,.3,-.8,.5,-.7,.1,-.8,.3,-1.1,.8,-.35,1,-.3,1.1,-.5,1.3,-1,1.45,-.9,2.8,-.15,4.55,-.05],
[0,1.3,0,1,0,.7,0,.4,0,.1,0,-.2,0,-.5,0,-.8,0,-1.2,0,-2,0,-2.35,0,-4,.03,.8,.03,1,.05,1.3,.06,.9,.05,.4,.03,.2,.05,0,.05,-.5,.05,-.8,.07,.1,.08,.05,.09,.1,.1,1,.26,1.3,.26,.25,.36,-.1,.1,.1],
[.05,2.5,0,2.1,0,1.5,0,1.1,0,.8,0,.5,0,.2,0,-.2,0,-.5,0,-.8,0,-1.1,.03,1,.035,1.1,.05,.8,.06,1,.04,.6,.07,.9,.05,.2,.1,.85,.1,.55,.09,.2,.05,-.3,.03,-.8,.035,-.75,.06,-2.05,.08,-2.25,.26,1.95,.26,.85,.36,.45]];

/* ---------- helpers ---------- */
const svg=d3.select("body").append("svg").attr("width",1650).attr("height",2327);
function T(g,x,y,s,o={}){
  const t=g.append("text").attr("x",x).attr("y",y).attr("font-size",o.size||10).attr("fill",o.color||"#000")
    .attr("text-anchor",o.anchor||"middle").attr("dominant-baseline","central");
  if(o.weight)t.attr("font-weight",o.weight);
  if(o.family)t.attr("font-family",o.family);
  if(o.html)t.html(s);else t.text(s);
  if(o.rot!==undefined)t.attr("transform",`rotate(${o.rot} ${x} ${y})`);
  if(o.w)t.attr("textLength",o.w).attr("lengthAdjust","spacingAndGlyphs");
  else if(o.sx){const n=t.node().getComputedTextLength();t.attr("textLength",n*o.sx).attr("lengthAdjust","spacingAndGlyphs");}
  return t;
}
function pairs(a){const r=[];for(let i=0;i+1<a.length;i+=2)r.push([a[i],a[i+1]]);return r;}
function cleanAxis(g,size,color){g.attr("font-family",null);g.selectAll("text").attr("font-size",size).attr("fill",color);g.selectAll("line").attr("stroke",color);return g;}

/* ---------- panel letters ---------- */
[["A",15,18],["B",1137,16],["C",1137,308],["D",1137,619],["E",11,892],["F",418,892],["G",838,893],["H",1252,893],["I",9,1166],["J",800,1164],["K",13,1771],["L",798,1771]]
 .forEach(d=>T(svg,d[1],d[2],d[0],{size:31,weight:"bold",sx:d[0]=="A"?.8:1}));

/* ---------- panel A ---------- */
(function(){
  const g=svg.append("g");
  const pos=[[476,58],[475,209],[64,231],[255,291],[696,297],[406,341],[546.5,341],[882.5,396],[474,458],[254,498],[696,497],[476,599],[476,747.5]];
  g.selectAll("line").data(netEdges).join("line")
   .attr("x1",d=>pos[d[0]][0]).attr("y1",d=>pos[d[0]][1]).attr("x2",d=>pos[d[1]][0]).attr("y2",d=>pos[d[1]][1])
   .attr("stroke","#808080").attr("stroke-width",4);
  netNodes.forEach((n,i)=>{
    const [x,y]=pos[i],r=42;
    if(n[1]=="c")g.append("circle").attr("cx",x).attr("cy",y).attr("r",r).attr("fill","#ff3300");
    if(n[1]=="s")g.append("rect").attr("x",x-r).attr("y",y-r).attr("width",2*r).attr("height",2*r).attr("fill","#339900");
    if(n[1]=="d")g.append("path").attr("d",`M${x},${y-r}L${x+r},${y}L${x},${y+r}L${x-r},${y}Z`).attr("fill","#ffff00");
  });
  netNodes.forEach((n,i)=>T(g,pos[i][0],pos[i][1],n[0],{size:23,sx:.97}));
})();

/* ---------- panels B-H ---------- */
function boxPanel(i,c){
  const g=svg.append("g"),fx=c.fx,fy=c.fy,L=fx(c.ax),R=fx(c.right),Y=fy(c.base),Top=fy(c.top);
  const ticks=boxTicks[i],mx=d3.max(ticks);
  const y=d3.scaleLinear().domain([0,mx]).range([fy(c.y0),fy(c.yM)]);
  const x=d3.scaleBand().domain(["Normal","Tumor"]).range([fx(c.bl),fx(c.br)]).paddingInner(.125);
  const cx=(fx(c.bl)+fx(c.br))/2;
  const ya=g.append("g").attr("transform",`translate(${L},0)`).call(d3.axisLeft(y).tickValues(ticks).tickSize(2.5).tickPadding(2).tickFormat(d3.format("d")));
  ya.select(".domain").remove();cleanAxis(ya,c.tick,"#333");
  g.append("line").attr("x1",L).attr("x2",L).attr("y1",Top).attr("y2",Y).attr("stroke","#333").attr("stroke-width",1.1);
  const xs=d3.scalePoint().domain(["COAD"]).range([cx,cx]);
  const xa=g.append("g").attr("transform",`translate(0,${Y})`).call(d3.axisBottom(xs).tickSize(2.5));
  xa.select(".domain").remove();cleanAxis(xa,10,"#222");
  xa.selectAll("text").attr("text-anchor","end").attr("dy",0).attr("y",4).attr("x",-1).attr("transform","rotate(-60)").attr("dominant-baseline","central");
  g.append("line").attr("x1",L).attr("x2",R).attr("y1",Y).attr("y2",Y).attr("stroke","#333").attr("stroke-width",1.1);
  [["Normal",boxNormal[i],outNormal[i],"#1a1aff"],["Tumor",boxTumor[i],outTumor[i],"#ff1a1a"]].forEach(([nm,s,o,col])=>{
    const bx=x(nm),bw=x.bandwidth(),mid=bx+bw/2;
    g.append("line").attr("x1",mid).attr("x2",mid).attr("y1",y(s[0])).attr("y2",y(s[4])).attr("stroke",col).attr("stroke-width",1);
    g.append("rect").attr("x",bx).attr("y",y(s[3])).attr("width",bw).attr("height",y(s[1])-y(s[3])).attr("fill","#fff").attr("stroke",col).attr("stroke-width",1);
    g.append("line").attr("x1",bx).attr("x2",bx+bw).attr("y1",y(s[2])).attr("y2",y(s[2])).attr("stroke",col).attr("stroke-width",1.6);
    g.selectAll(null).data(o).join("circle").attr("cx",mid).attr("cy",d=>y(d)).attr("r",1.7).attr("fill",col);
  });
  if(boxStars[i])T(g,cx,fy(c.star),boxStars[i],{size:8,color:"#222"});
  const ly=fy(c.leg);
  T(g,fx(c.lx[0]),ly,"Type",{size:9.5,anchor:"start",w:fx(c.lx[1])-fx(c.lx[0]),color:"#222"});
  [[c.lx[2],c.lx[3],"#1a1aff","Normal",c.lx[4],c.lx[5]],[c.lx[6],c.lx[7],"#ff1a1a","Tumor",c.lx[8],c.lx[9]]].forEach(k=>{
    const a=fx(k[0]),b=fx(k[1]);
    g.append("line").attr("x1",(a+b)/2).attr("x2",(a+b)/2).attr("y1",ly-5).attr("y2",ly+5).attr("stroke",k[2]).attr("stroke-width",.8);
    g.append("rect").attr("x",a).attr("y",ly-3).attr("width",b-a).attr("height",6).attr("fill","#fff").attr("stroke",k[2]).attr("stroke-width",.8);
    g.append("line").attr("x1",a).attr("x2",b).attr("y1",ly).attr("y2",ly).attr("stroke",k[2]).attr("stroke-width",.9);
    T(g,fx(k[4]),ly,k[3],{size:8.5,anchor:"start",w:fx(k[5])-fx(k[4]),color:"#222"});
  });
  T(g,fx(c.yl[0]),(fy(c.yl[1])+fy(c.yl[2]))/2,boxGenes[i]+" expression",{size:c.ylSize,rot:-90,w:fy(c.yl[2])-fy(c.yl[1]),color:"#222"});
  T(g,cx,fy(c.xl),"Cancer type",{size:9.5,w:c.xlw,color:"#222"});
}
const fyB=z=>z*880/1568,fxB=z=>1100+z*550/1568,fxE=z=>z/.9503,fyE=z=>880+z/3;
boxPanel(0,{fx:fxB,fy:fyB,ax:189,right:1437,base:422,top:57,y0:410,yM:152,bl:424,br:1204,star:64,leg:18,lx:[648,704,722,755,773,848,866,900,917,980],yl:[138,150,330],ylSize:10,xl:492,xlw:52,tick:9.5});
boxPanel(1,{fx:fxB,fy:fyB,ax:190,right:1452,base:937,top:568,y0:923,yM:598,bl:427,br:1216,star:0,leg:529,lx:[654,711,731,763,780,857,874,908,926,990],yl:[139,690,818],ylSize:10,xl:1008,xlw:52,tick:9.5});
boxPanel(2,{fx:fxB,fy:fyB,ax:193,right:1452,base:1466,top:1097,y0:1450,yM:1101,bl:429,br:1217,star:1104,leg:1058,lx:[656,713,733,765,782,859,876,910,927,991],yl:[143,1187,1375],ylSize:10,xl:1536,xlw:52,tick:9.5});
boxPanel(3,{fx:fxE,fy:fyE,ax:30,right:390,base:664,top:120,y0:640,yM:170,bl:100,br:331,star:130,leg:62,lx:[165,183,188,198,203,225,230,240,245,265],yl:[14,270,512],ylSize:9.5,xl:770,xlw:47,tick:8.5});
boxPanel(4,{fx:fxE,fy:fyE,ax:415,right:785,base:667,top:120,y0:641,yM:219,bl:485,br:716,star:130,leg:62,lx:[551,568,573,583,588,610,615,625,630,650],yl:[400,270,515],ylSize:9.5,xl:772,xlw:47,tick:8.5});
boxPanel(5,{fx:fxE,fy:fyE,ax:812,right:1170,base:683,top:150,y0:659,yM:217,bl:878,br:1104,star:163,leg:96,lx:[943,960,965,975,980,1002,1006,1016,1021,1041],yl:[797,315,520],ylSize:9.5,xl:787,xlw:47,tick:8.5});
boxPanel(6,{fx:fxE,fy:fyE,ax:1196,right:1545,base:680,top:163,y0:656,yM:288,bl:1262,br:1480,star:174,leg:110,lx:[1325,1342,1346,1356,1360,1381,1385,1395,1400,1420],yl:[1183,285,552],ylSize:9.5,xl:780,xlw:47,tick:8.5});

/* ---------- panel I ---------- */
(function(){
  const fx=z=>80+z*620/1568,fy=z=>1140+z*620/1568;
  const frames=[[27,30,785,780],[787,30,1527,778],[27,781,785,1530],[787,781,1533,1530]];
  const plots=[[122,772,133,697],[880,1513,131,685],[122,772,881,1440],[885,1520,881,1438]];
  const xDom=[[-7.5,7.5],[-6,4],[-6,4],[-8,4]],yDom=[[-8,6],[-6,6],[-8,6],[-8,4]];
  const pts=[pairs(i1Pts).concat(i1Floor.map(x=>[x,-6.64])),pairs(i2Pts),pairs(i3Pts),pairs(i4Pts)];
  const lay=[{tc:406,ty:54,sy:91,xc:447,xy:753,yx:60,yc:415,yh:386,xw:421,tw:508,tky:719,lg:[145,495,137,186],lt:458},
             {tc:1155,ty:54,sy:90,xc:1196,xy:742,yx:820,yc:409,yh:355,xw:410,tw:450,tky:708,lg:[900,1220,135,184],lt:1207},
             {tc:406,ty:803,sy:840,xc:447,xy:1494,yx:60,yc:1160,yh:390,xw:421,tw:502,tky:1461,lg:[145,495,885,934],lt:458},
             {tc:1160,ty:803,sy:840,xc:1202,xy:1494,yx:822,yc:1160,yh:365,xw:408,tw:466,tky:1461,lg:[905,1250,885,934],lt:1211}];
  frames.forEach((f,i)=>{
    const g=svg.append("g"),l=lay[i],p=plots[i];
    g.append("rect").attr("x",fx(f[0])).attr("y",fy(f[1])).attr("width",fx(f[2])-fx(f[0])).attr("height",fy(f[3])-fy(f[1])).attr("fill","#f6f7fe").attr("stroke","#5b80b5").attr("stroke-width",2);
    const x=d3.scaleLinear().domain(xDom[i]).range([fx(p[0]),fx(p[1])]);
    const y=d3.scaleLinear().domain(yDom[i]).range([fy(p[3]),fy(p[2])]);
    g.append("rect").attr("x",fx(p[0])).attr("y",fy(p[2])).attr("width",fx(p[1])-fx(p[0])).attr("height",fy(p[3])-fy(p[2])).attr("fill","#fff").attr("stroke","#c8c8c8").attr("stroke-width",1);
    g.selectAll(null).data(d3.range(yDom[i][0],yDom[i][1]+.01,.4)).join("line").attr("x1",fx(p[0])).attr("x2",fx(p[1])).attr("y1",d=>y(d)).attr("y2",d=>y(d)).attr("stroke","#e2e2e2").attr("stroke-width",.6);
    const xa=g.append("g").attr("transform",`translate(0,${fy(p[3])})`).call(d3.axisBottom(x).tickValues(iXTicks[i]).tickSize(2).tickPadding(1).tickFormat(d=>d));
    const ya=g.append("g").attr("transform",`translate(${fx(p[0])},0)`).call(d3.axisLeft(y).tickValues(iYTicks[i]).tickSize(2).tickPadding(6).tickFormat(d=>d));
    [xa,ya].forEach(a=>{a.select(".domain").attr("stroke","#999");cleanAxis(a,7.5,"#666");});
    xa.selectAll("text").attr("dy",null).attr("y",null).attr("dominant-baseline","central").attr("transform",`translate(0,${fy(l.tky)-fy(p[3])})`);
    g.selectAll(null).data(pts[i]).join("circle").attr("cx",d=>x(d[0])).attr("cy",d=>y(d[1])).attr("r",2.6).attr("fill","#0f6496");
    const r=iRegLines[i];
    g.append("line").attr("x1",x(r[0])).attr("y1",y(r[1])).attr("x2",x(r[2])).attr("y2",y(r[3])).attr("stroke","#e8202a").attr("stroke-width",1.2);
    T(g,fx(l.tc),fy(l.ty),iTitles[i],{size:8.2,weight:"bold",family:"DejaVu Sans",w:fx(l.tc+l.tw/2)-fx(l.tc-l.tw/2),color:"#333"});
    T(g,fx(l.tc),fy(l.sy),"Data Source: starBase v3.0 project",{size:7,family:"DejaVu Sans",w:116,color:"#666"});
    T(g,fx(l.xc),fy(l.xy),iXLabels[i],{size:7,family:"DejaVu Sans",w:fx(l.xc+l.xw/2)-fx(l.xc-l.xw/2),color:"#777"});
    T(g,fx(l.yx),fy(l.yc),iYLabels[i],{size:7,family:"DejaVu Sans",rot:-90,w:fy(l.yc+l.yh/2)-fy(l.yc-l.yh/2),color:"#777"});
    const lg=l.lg;
    g.append("rect").attr("x",fx(lg[0])).attr("y",fy(lg[2])).attr("width",fx(lg[1])-fx(lg[0])).attr("height",fy(lg[3])-fy(lg[2])).attr("fill","#fff").attr("stroke","#bbb").attr("stroke-width",.8);
    const ly1=fy(lg[2]+11),ly2=fy(lg[2]+37),tx=fx(lg[0]+34);
    g.append("line").attr("x1",fx(lg[0]+2)).attr("x2",fx(lg[0]+25)).attr("y1",ly1).attr("y2",ly1).attr("stroke","#1585c8").attr("stroke-width",1.2);
    g.append("circle").attr("cx",fx(lg[0]+13)).attr("cy",ly2).attr("r",2).attr("fill","#39b54a");
    T(g,tx,ly1,iEq[i],{size:7.5,anchor:"start",family:"DejaVu Sans",w:fx(lg[1])-tx-.5,color:"#333"});
    T(g,tx,ly2,`<tspan font-style="italic">r</tspan> = ${iR[i]}, <tspan font-style="italic">p</tspan>-value = ${iP[i]}`,{size:7.5,anchor:"start",family:"DejaVu Sans",html:true,w:fx(l.lt)-tx,color:"#333"});
  });
})();

/* ---------- panel J ---------- */
(function(){
  const fx=z=>780+z*870/1568,fy=z=>1140+z*530/1568;
  const pL=[78,257,436,615,794,973,1152],pw=164;
  const y=d3.scaleLinear().domain([0,6]).range([fy(1371),fy(220)]);
  const top=fy(205),bot=fy(1427);
  jGenes.forEach((gene,i)=>{
    const g=svg.append("g"),L=fx(pL[i]),R=fx(pL[i]+pw);
    const x=d3.scalePoint().domain(jCats).range([L,R]).padding(.6);
    g.selectAll(null).data(d3.range(1,6,2)).join("line").attr("x1",L).attr("x2",R).attr("y1",d=>y(d)).attr("y2",d=>y(d)).attr("stroke","#f0f0f0").attr("stroke-width",.6);
    g.selectAll(null).data(jTicks).join("line").attr("x1",L).attr("x2",R).attr("y1",d=>y(d)).attr("y2",d=>y(d)).attr("stroke","#ebebeb").attr("stroke-width",1.2);
    g.selectAll(null).data(jCats).join("line").attr("x1",d=>x(d)).attr("x2",d=>x(d)).attr("y1",top).attr("y2",bot).attr("stroke","#ebebeb").attr("stroke-width",1.2);
    jCats.forEach((c,j)=>{
      const s=jStats[i][j],m=x(c),bw=x.step()*.75;
      g.append("line").attr("x1",m).attr("x2",m).attr("y1",y(s[0])).attr("y2",y(s[4])).attr("stroke","#333").attr("stroke-width",1.1);
      g.append("rect").attr("x",m-bw/2).attr("y",y(s[3])).attr("width",bw).attr("height",y(s[1])-y(s[3])).attr("fill",jColors[j]).attr("stroke","#333").attr("stroke-width",1.1);
      g.append("line").attr("x1",m-bw/2).attr("x2",m+bw/2).attr("y1",y(s[2])).attr("y2",y(s[2])).attr("stroke","#333").attr("stroke-width",2.2);
      g.selectAll(null).data(jOut[i][j]).join("circle").attr("cx",m).attr("cy",d=>y(d)).attr("r",3).attr("fill","#333");
    });
    g.append("rect").attr("x",L).attr("y",top).attr("width",R-L).attr("height",bot-top).attr("fill","none").attr("stroke","#7f7f7f").attr("stroke-width",1.2);
    g.append("rect").attr("x",L).attr("y",fy(135)).attr("width",R-L).attr("height",top-fy(135)).attr("fill","#d9d9d9").attr("stroke","#555").attr("stroke-width",1.1);
    T(g,(L+R)/2,(fy(135)+top)/2+.5,gene,{size:12,color:"#1a1a1a",w:gene.length>10?81:(gene.length*6.6+2)});
    const xa=g.append("g").attr("transform",`translate(0,${bot})`).call(d3.axisBottom(x).tickSize(3).tickPadding(2));
    xa.select(".domain").remove();cleanAxis(xa,11,"#4d4d4d");
    xa.selectAll("text").each(function(){d3.select(this).attr("textLength",14.5).attr("lengthAdjust","spacingAndGlyphs");});
    if(i==0){const ya=g.append("g").attr("transform",`translate(${L},0)`).call(d3.axisLeft(y).tickValues(jTicks).tickSize(3).tickPadding(2).tickFormat(d3.format("d")));
      ya.select(".domain").remove();cleanAxis(ya,11,"#4d4d4d");}
  });
  T(svg,fx(30),fy(815),"Gene expression",{size:14,rot:-90,w:111,color:"#111"});
  T(svg,fx(697),fy(1510),"Immune Subtype",{size:15,w:112,color:"#111"});
  T(svg,fx(1358),fy(633),"Immune Subtype",{size:15,anchor:"start",w:112,color:"#111"});
  const ky=[708,778,847,916,985];
  jCats.forEach((c,j)=>{
    const m=fy(ky[j]),a=fx(1363),b=fx(1395);
    svg.append("line").attr("x1",(a+b)/2).attr("x2",(a+b)/2).attr("y1",m-10).attr("y2",m+10).attr("stroke","#333").attr("stroke-width",1);
    svg.append("rect").attr("x",a).attr("y",m-6).attr("width",b-a).attr("height",12).attr("fill",jColors[j]).attr("stroke","#333").attr("stroke-width",1);
    svg.append("line").attr("x1",a).attr("x2",b).attr("y1",m).attr("y2",m).attr("stroke","#333").attr("stroke-width",1.5);
    T(svg,fx(1413),m,c,{size:12,anchor:"start",w:15,color:"#111"});
  });
})();

/* ---------- panel K ---------- */
(function(){
  const fx=z=>z*790/1568,fy=z=>1750+z*577/1568;
  const cols=[78,280,482,684,885,1088,1290],cw=188;
  const rows=[165,436,708,979,1250],rh=250;
  T(svg,fx(78),fy(57),"Cancer: COAD",{size:15,anchor:"start",w:106,color:"#111"});
  T(svg,fx(777),fy(1535),"Gene expression",{size:14,w:99,color:"#111"});
  kGenes.forEach((gn,c)=>{
    svg.append("rect").attr("x",fx(cols[c])).attr("y",fy(101)).attr("width",fx(cw)).attr("height",fy(163)-fy(101)).attr("fill","#d9d9d9");
    T(svg,fx(cols[c]+cw/2),fy(132),gn,{size:13.5,sx:.8,color:"#1a1a1a"});
  });
  kScores.forEach((sc,r)=>{
    svg.append("rect").attr("x",fx(1477)).attr("y",fy(rows[r]-(r==0?2:0))).attr("width",fx(1522)-fx(1477)).attr("height",fy(rows[r]+rh)-fy(rows[r]-(r==0?2:0))).attr("fill","#d9d9d9");
    T(svg,fx(1499),fy(rows[r]+rh/2-2),sc,{size:13,rot:90,sx:.88,color:"#1a1a1a"});
    kGenes.forEach((gn,c)=>{
      const g=svg.append("g"),L=fx(cols[c]),R=fx(cols[c]+cw),Tp=fy(rows[r]),B=fy(rows[r]+rh);
      const x=d3.scaleLinear().domain([0,100]).range([L,R]),y=d3.scaleLinear().domain([0,100]).range([B,Tp]);
      g.append("rect").attr("x",L).attr("y",Tp).attr("width",R-L).attr("height",B-Tp).attr("fill","#ebebeb");
      g.selectAll(null).data(d3.range(5,100,10)).join("line").attr("x1",d=>x(d)).attr("x2",d=>x(d)).attr("y1",Tp).attr("y2",B).attr("stroke","#fff").attr("stroke-width",.6);
      g.selectAll(null).data(d3.range(5,100,15)).join("line").attr("x1",L).attr("x2",R).attr("y1",d=>y(d)).attr("y2",d=>y(d)).attr("stroke","#fff").attr("stroke-width",.7);
      const xs=kX1[c].concat(kX2[c]),ys=kY1[r].concat(kY2[r]);
      const pts=xs.map((v,i)=>[v,ys[i]]).filter(d=>d[1]!==undefined);
      g.selectAll(null).data(pts).join("circle").attr("cx",d=>x(d[0])).attr("cy",d=>y(d[1])).attr("r",1.2).attr("fill","#000");
      const f=kFits[r][c];
      g.append("line").attr("x1",x(4)).attr("y1",y(f[0])).attr("x2",x(95)).attr("y2",y(f[1])).attr("stroke","#3366ff").attr("stroke-width",2.2);
      T(g,x(4.3),fy(rows[r]+25),kLabels[r][c],{size:8.2,anchor:"start",sx:.92,color:"#222"});
    });
  });
})();

/* ---------- panel L ---------- */
(function(){
  const fx=z=>790+z*860/1568,fy=z=>1750+z*577/1568;
  const cL=[67,411,755,1099],cR=[352,696,1040,1385],rT=[172,528,883,1239],rh=200;
  lTitles.forEach((tt,i)=>{
    const c=i%4,r=Math.floor(i/4),g=svg.append("g");
    const left=(i==5)?403:cL[c];
    const L=fx(left),R=fx(cR[c]),Tp=fy(rT[r]),B=fy(rT[r]+rh);
    const x=d3.scaleLinear().domain(lXDom[i]).range([L,R]),y=d3.scaleLinear().domain(lYDom[i]).range([B,Tp]);
    const xm=d3.pairs(lXTicks[i]).map(p=>(p[0]+p[1])/2),ym=d3.pairs(lYTicks[i]).map(p=>(p[0]+p[1])/2);
    g.selectAll(null).data(xm).join("line").attr("x1",d=>x(d)).attr("x2",d=>x(d)).attr("y1",Tp).attr("y2",B).attr("stroke","#f2f2f2").attr("stroke-width",.5);
    g.selectAll(null).data(ym).join("line").attr("x1",L).attr("x2",R).attr("y1",d=>y(d)).attr("y2",d=>y(d)).attr("stroke","#f2f2f2").attr("stroke-width",.5);
    g.selectAll(null).data(lXTicks[i]).join("line").attr("x1",d=>x(d)).attr("x2",d=>x(d)).attr("y1",Tp).attr("y2",B).attr("stroke","#ebebeb").attr("stroke-width",.9);
    g.selectAll(null).data(lYTicks[i]).join("line").attr("x1",L).attr("x2",R).attr("y1",d=>y(d)).attr("y2",d=>y(d)).attr("stroke","#ebebeb").attr("stroke-width",.9);
    const area=d3.area().x(d=>x(d[0])).y0(d=>y(d[1])).y1(d=>y(d[2])).curve(d3.curveMonotoneX);
    g.append("path").attr("d",area(lBand[i])).attr("fill","#d2d2d2");
    g.selectAll(null).data(pairs(lPts[i])).join("circle").attr("cx",d=>x(d[0])).attr("cy",d=>y(d[1])).attr("r",1.6).attr("fill","#000");
    const f=lFit[i];
    g.append("line").attr("x1",x(f[0])).attr("y1",y(f[1])).attr("x2",x(f[2])).attr("y2",y(f[3])).attr("stroke","#3366ff").attr("stroke-width",2);
    g.append("rect").attr("x",L).attr("y",Tp).attr("width",R-L).attr("height",B-Tp).attr("fill","none").attr("stroke","#7f7f7f").attr("stroke-width",1);
    const xa=g.append("g").attr("transform",`translate(0,${B})`).call(d3.axisBottom(x).tickValues(lXTicks[i]).tickSize(2).tickPadding(1.5).tickFormat(d3.format(lXTicks[i][1]<1?".1f":"d")));
    const ya=g.append("g").attr("transform",`translate(${L},0)`).call(d3.axisLeft(y).tickValues(lYTicks[i]).tickSize(2).tickPadding(1.5).tickFormat(d3.format("d")));
    [xa,ya].forEach(a=>{a.select(".domain").remove();cleanAxis(a,8.5,"#4d4d4d");});
    T(g,L,fy(rT[r]-63),tt,{size:13,anchor:"start",sx:.8,color:"#111"});
    T(g,L,fy(rT[r]-26),lSubs[i],{size:10.5,anchor:"start",sx:.83,color:"#111"});
  });
})();
</script></body></html>
